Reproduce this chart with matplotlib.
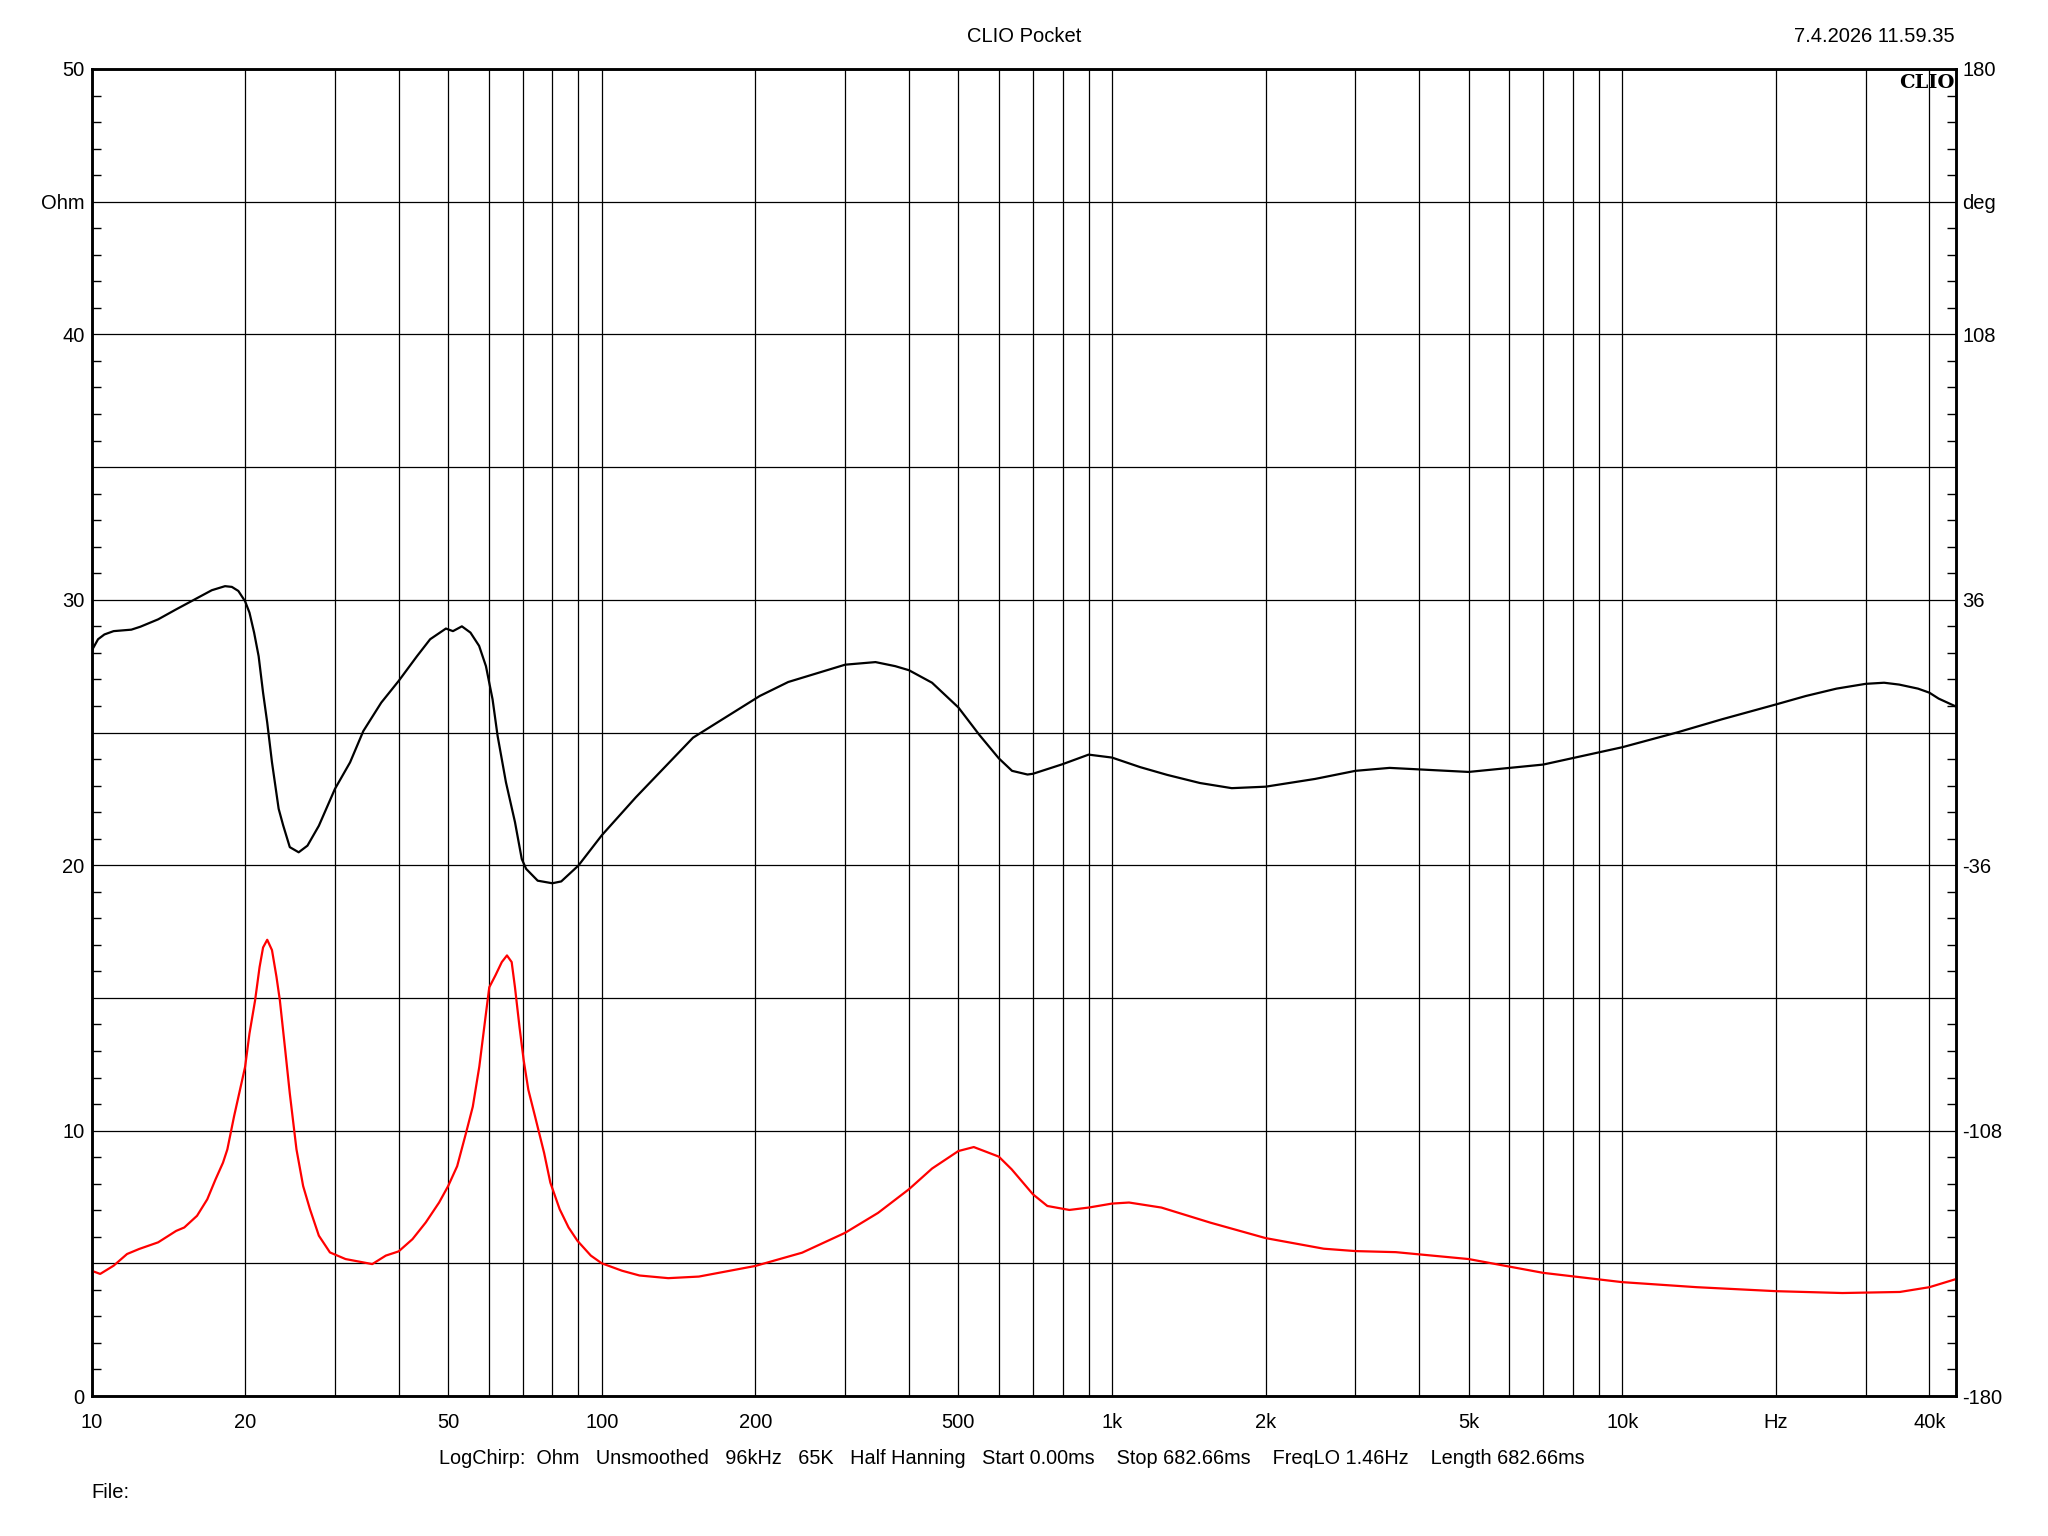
import matplotlib
matplotlib.use('Agg')
import matplotlib.pyplot as plt
from matplotlib.ticker import FixedLocator, NullLocator

plt.rcParams['font.family'] = ['Liberation Sans', 'DejaVu Sans']

# impedance magnitude (red, left axis, Ohm)
freq_z = [10, 10.4, 11.05, 11.74, 12.4, 13.51, 14.65, 15.2, 16.1, 16.86, 17.5, 18.1, 18.46,
          19.03, 20.0, 20.4, 20.92, 21.35, 21.69, 22.1, 22.58, 23.04, 23.4, 23.98, 24.47,
          25.22, 25.99, 26.8, 27.9, 29.33, 31.47, 35.5, 37.74, 40, 42.57, 45.2, 48.0, 50,
          52.08, 54.2, 55.88, 57.55, 59.3, 60.2, 61.9, 63.7, 65.2, 66.6, 67.6, 69.0, 70.3,
          71.8, 74.0, 77.1, 79.3, 82.7, 86.1, 89.6, 95.2, 100, 109.6, 118.6, 135, 155, 200,
          247, 300, 348, 400, 444, 500, 536, 600, 636, 700, 747, 825, 900, 1000, 1080, 1250,
          1560, 2000, 2600, 3000, 3600, 5000, 7000, 10000, 14000, 20000, 27000, 35000,
          40000, 45000]
ohm = [4.72, 4.6, 4.91, 5.35, 5.54, 5.79, 6.22, 6.35, 6.79, 7.41, 8.16, 8.79, 9.29,
       10.54, 12.4, 13.66, 14.9, 16.16, 16.9, 17.19, 16.8, 15.8, 14.9, 13.0, 11.4,
       9.29, 7.91, 7.04, 6.04, 5.41, 5.16, 4.97, 5.29, 5.45, 5.91, 6.54, 7.29, 7.91,
       8.66, 9.91, 10.9, 12.41, 14.41, 15.4, 15.85, 16.35, 16.6, 16.35, 15.4, 13.9, 12.66,
       11.54, 10.54, 9.16, 8.04, 7.04, 6.35, 5.85, 5.29, 5.0, 4.72, 4.54, 4.44, 4.5, 4.9,
       5.4, 6.15, 6.9, 7.79, 8.57, 9.23, 9.38, 9.02, 8.54, 7.6, 7.16, 7.01, 7.1, 7.25,
       7.29, 7.1, 6.53, 5.95, 5.55, 5.46, 5.42, 5.16, 4.64, 4.29, 4.1, 3.95, 3.88, 3.92,
       4.1, 4.4]

# phase (black, right axis, deg)
freq_p = [10, 10.3, 10.6, 11.05, 11.97, 12.47, 13.51, 14.65, 15.88, 17.21, 18.27, 18.84,
          19.4, 20.0, 20.4, 20.83, 21.26, 21.69, 22.1, 22.58, 23.27, 23.75, 24.47, 25.47,
          26.5, 27.9, 30, 32.12, 34.1, 36.97, 40, 43.44, 46.1, 49.5, 51.1, 53.2, 55.3, 57.5,
          59.3, 61.1, 62.5, 64.9, 67.6, 69.7, 71.1, 74.9, 80, 83.3, 90, 100, 116.6, 151,
          204, 232, 300, 344, 376, 400, 444, 500, 550, 600, 637, 683, 700, 800, 900, 1000,
          1136, 1283, 1487, 1717, 2000, 2500, 3000, 3500, 5000, 7000, 10000, 12800, 15700,
          20000, 22900, 26300, 30000, 32600, 34900, 38000, 40000, 41700, 45000]
phase = [22.1, 25.3, 26.6, 27.5, 27.9, 28.7, 30.7, 33.4, 36.0, 38.6, 39.7, 39.5,
         38.4, 35.6, 32.5, 27.1, 20.7, 10.8, 2.7, -8.1, -20.7, -25.2, -31.1, -32.5,
         -30.7, -25.3, -15.3, -8.1, 0.4, 8.1, 14.0, 20.7, 25.3, 28.2, 27.5, 28.8, 27.1, 23.5,
         18.0, 9.0, -0.9, -13.5, -24.3, -34.3, -37.0, -40.2, -40.9, -40.4, -36.1, -27.9,
         -17.6, -1.4, 9.9, 13.7, 18.4, 19.1, 18.0, 16.9, 13.5, 6.8, -0.7, -7.0, -10.4,
         -11.4, -11.2, -8.6, -6.0, -6.8, -9.4, -11.5, -13.7, -15.1, -14.7, -12.6, -10.4,
         -9.6, -10.7, -8.7, -4.0, 0.0, 3.6, 7.6, 9.9, 11.9, 13.2, 13.5, 13.0, 11.9, 10.8,
         9.2, 7.1]

x_grid = ([10 * i for i in range(1, 10)] + [100 * i for i in range(1, 10)]
          + [1000 * i for i in range(1, 10)] + [10000, 20000, 30000, 40000])
x_labels = {10: '10', 20: '20', 50: '50', 100: '100', 200: '200', 500: '500',
            1000: '1k', 2000: '2k', 5000: '5k', 10000: '10k', 20000: 'Hz', 40000: '40k'}
left_ticks = [0, 5, 10, 15, 20, 25, 30, 35, 40, 45, 50]
left_labels = ['0', '', '10', '', '20', '', '30', '', '40', 'Ohm', '50']
right_ticks = [-180, -144, -108, -72, -36, 0, 36, 72, 108, 144, 180]
right_labels = ['-180', '', '-108', '', '-36', '', '36', '', '108', 'deg', '180']

fs = 14.5
fig = plt.figure(figsize=(20.48, 15.36), dpi=100)
ax = fig.add_axes([91.5 / 2048, 1 - 1396 / 1536, (1955.5 - 91.5) / 2048, (1396 - 69) / 1536])
ax.set_xscale('log')
ax.set_xlim(10, 45000)
ax.set_ylim(0, 50)
ax.xaxis.set_major_locator(FixedLocator(x_grid))
ax.xaxis.set_minor_locator(NullLocator())
ax.set_xticklabels([x_labels.get(v, '') for v in x_grid])
ax.yaxis.set_major_locator(FixedLocator(left_ticks))
ax.set_yticklabels(left_labels)
ax.yaxis.set_minor_locator(FixedLocator(range(0, 51)))
ax.tick_params(axis='x', which='both', length=0, pad=12, labelsize=fs)
ax.tick_params(axis='y', which='major', length=0, pad=5, labelsize=fs)
ax.tick_params(axis='y', which='minor', direction='in', length=6.5, width=1.0)
ax.grid(True, which='major', color='black', lw=0.9)
for s in ax.spines.values():
    s.set_linewidth(1.8)

ax.plot(freq_z, ohm, color='#ff0000', lw=1.6, zorder=3)

ax2 = ax.twinx()
ax2.set_ylim(-180, 180)
ax2.yaxis.set_major_locator(FixedLocator(right_ticks))
ax2.set_yticklabels(right_labels)
ax2.yaxis.set_minor_locator(FixedLocator([-180 + 7.2 * i for i in range(51)]))
ax2.tick_params(axis='y', which='major', length=0, pad=5, labelsize=fs)
ax2.tick_params(axis='y', which='minor', direction='in', length=6.5, width=1.0)
for s in ax2.spines.values():
    s.set_linewidth(1.8)
ax2.plot(freq_p, phase, color='black', lw=1.6, zorder=3)

ax2.text(0.9995, 0.996, 'CLIO', transform=ax2.transAxes, ha='right', va='top',
         family='DejaVu Serif', fontweight='bold', fontsize=14)

fig.text(0.5, 0.976, 'CLIO Pocket', ha='center', va='center', fontsize=fs)
fig.text(1955 / 2048, 0.976, '7.4.2026 11.59.35', ha='right', va='center', fontsize=fs)
fig.text(1012 / 2048, 1 - 1458 / 1536,
         'LogChirp:  Ohm   Unsmoothed   96kHz   65K   Half Hanning   Start 0.00ms'
         '    Stop 682.66ms    FreqLO 1.46Hz    Length 682.66ms',
         ha='center', va='center', fontsize=14.3)
fig.text(91.5 / 2048, 1 - 1492 / 1536, 'File:', ha='left', va='center', fontsize=fs)

fig.savefig('out.png', dpi=100, facecolor='white')
